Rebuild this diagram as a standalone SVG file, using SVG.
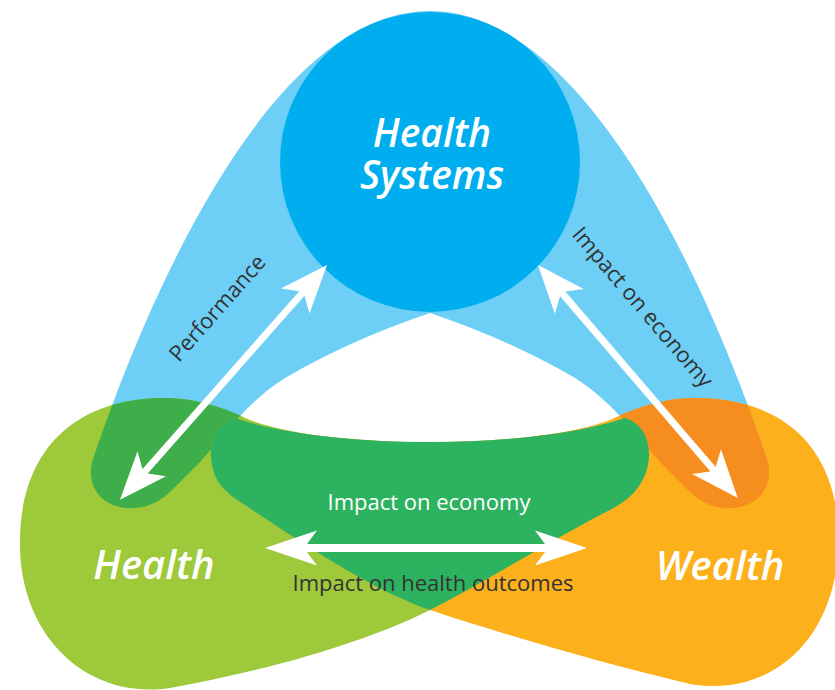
<svg xmlns="http://www.w3.org/2000/svg" width="835" height="690" viewBox="0 0 835 690">
<defs>
<style>
.lbl{font-family:"Open Sans","Liberation Sans",sans-serif;font-size:22px;text-anchor:middle;}
.dark{fill:#333333;}
.light{fill:#ffffff;}
.title{font-family:"Open Sans","Liberation Sans",sans-serif;font-style:italic;font-weight:600;font-size:39px;fill:#ffffff;text-anchor:middle;}
.node{font-size:40px;}
.arrow{fill:#ffffff;}
</style>
<path id="bluePath" d="M430,11 C282,11 160,260 92,462 C86,490 105,510 135,508 C150,507 162,500 172,490 L200,462 C230,428 250,400 285,378 Q350,340 430,313 Q510,340 575,378 C610,400 630,428 660,462 L688,490 C698,500 710,507 725,508 C755,510 774,490 768,462 C700,260 578,11 430,11 Z"/>
<path id="greenPath" d="M430,610 C370,640 280,668 170,688 C90,700 22,640 20,548 C18,455 70,400 160,398 C195,397 225,408 250,420 C330,450 530,450 625,418 C645,424 652,445 648,465 C644,485 630,500 610,510 C560,535 480,585 430,610 Z"/>
<path id="orangePath" d="M430,610 C490,630 600,663 690,684 C770,698 835,640 838,548 C842,455 790,400 700,398 C665,397 635,408 610,420 C530,450 330,450 235,418 C215,424 208,445 212,465 C215,482 225,493 245,505 C290,535 370,590 430,610 Z"/>
<clipPath id="clipG"><use href="#greenPath"/></clipPath>
<clipPath id="clipO"><use href="#orangePath"/></clipPath>
</defs>

<g id="health-systems-band">
<use href="#bluePath" fill="#6DCFF6"/>
</g>
<g id="health">
<use href="#greenPath" fill="#9DC93B"/>
</g>
<g id="wealth">
<use href="#orangePath" fill="#FBB01C"/>
</g>
<g id="overlaps">
<use href="#bluePath" fill="#3DAE49" clip-path="url(#clipG)"/>
<use href="#bluePath" fill="#F68D1F" clip-path="url(#clipO)"/>
<path id="health-wealth-band" fill="#2DB35F" d="M235,418 C330,450 530,450 625,418 C645,424 652,445 648,465 C644,485 630,500 610,510 C560,535 480,585 430,610 C370,590 290,535 245,505 C225,493 215,482 212,465 C208,445 215,424 235,418 Z"/>
</g>
<g id="health-systems-node">
<circle cx="430" cy="162" r="150" fill="#00AEEF"/>
<text class="title"><tspan x="432" y="147">Health</tspan><tspan x="432" y="189">Systems</tspan></text>
</g>
<g id="health-node">
<text class="title node" x="154" y="579">Health</text>
</g>
<g id="wealth-node">
<text class="title node" x="720" y="580">Wealth</text>
</g>

<g id="connectors">
<path class="arrow" transform="translate(327,265) rotate(131.4)" d="M0,0 L48,-19 L38,-3.5 L275,-3.5 L265,-19 L313,0 L265,19 L275,3.5 L38,3.5 L48,19 Z"/>
<path class="arrow" transform="translate(538,265) rotate(49.4)" d="M0,0 L48,-19 L38,-3.5 L269,-3.5 L259,-19 L307,0 L259,19 L269,3.5 L38,3.5 L48,19 Z"/>
<path class="arrow" transform="translate(265,548)" d="M0,0 L52,-17.5 L42,-4 L280,-4 L270,-17.5 L322,0 L270,17.5 L280,4 L42,4 L52,17.5 Z"/>
</g>

<g id="labels">
<text class="lbl dark" transform="translate(223,313) rotate(-48.6)">Performance</text>
<text class="lbl dark" transform="translate(637,312) rotate(49.4)">Impact on economy</text>
<text class="lbl light" x="429" y="510">Impact on economy</text>
<text class="lbl dark" x="433" y="591">Impact on health outcomes</text>
</g>
</svg>
